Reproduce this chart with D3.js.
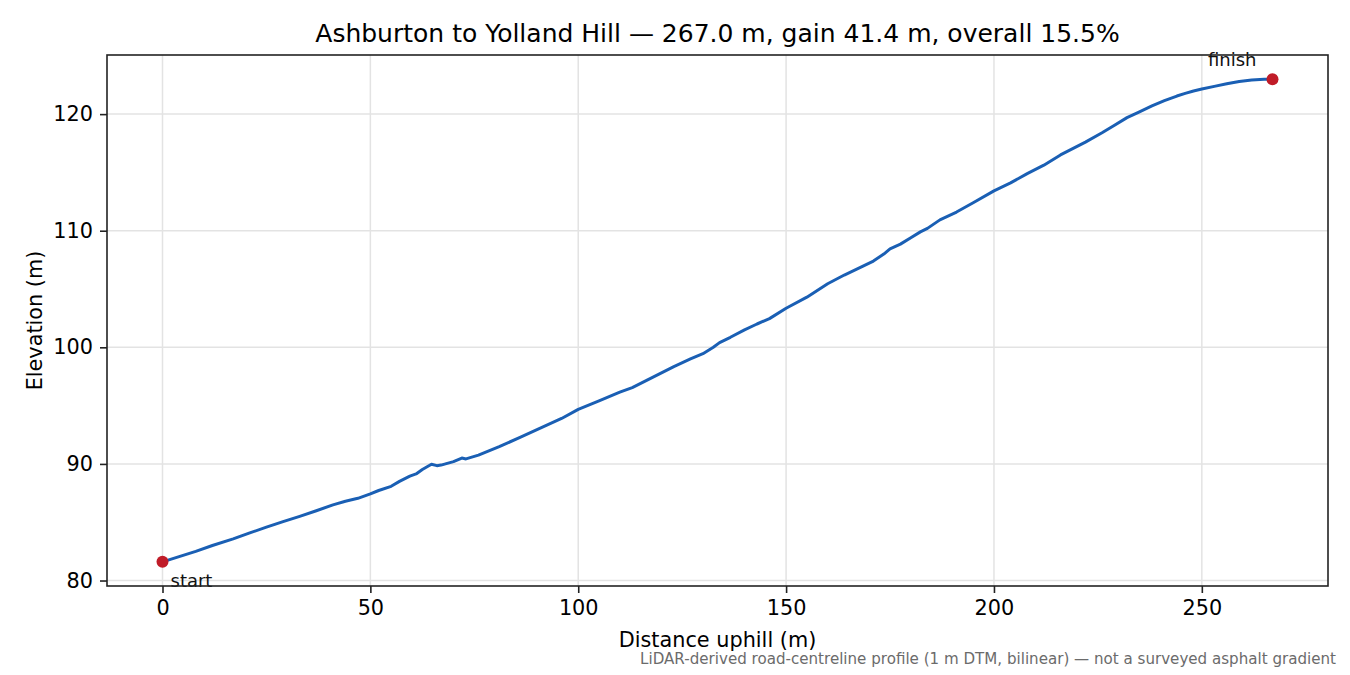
<!doctype html>
<html lang="en">
<head>
    <meta charset="utf-8"/>
    <title>Ashburton to Yolland Hill</title>
    <script src="https://d3js.org/d3.v7.min.js"></script>
    <style>
        body {
            margin: 0;
            padding: 0;
            background: white;
        }

        svg text {
            font-family: 'DejaVu Sans', sans-serif;
        }
    </style>
</head>
<body>
<script>

    // profile: distance uphill (m) and elevation (m)
    const distance = [0, 4, 8, 12, 17, 21, 25, 29, 33, 37, 41, 44, 47, 50, 52, 55, 57, 59.5, 61, 62.5,
        64.7, 66, 67, 70, 72, 73, 76, 81, 86, 91, 96, 100, 105, 110, 113, 118, 123, 127, 130, 132.5,
        134, 136.6, 140, 143, 146, 150, 155, 160, 164, 167, 171, 173.5, 175, 177.5, 180, 182.3, 184,
        187, 191, 195, 200, 204, 208, 212, 216, 222, 226, 229, 232, 235, 238, 241, 244, 246, 248, 250,
        253, 256, 259, 262, 265, 267]
    const elevation = [81.6, 82.05, 82.5, 83.0, 83.57, 84.08, 84.58, 85.05, 85.5, 85.98, 86.49, 86.8,
        87.05, 87.43, 87.72, 88.08, 88.5, 88.95, 89.14, 89.52, 89.97, 89.85, 89.9, 90.2, 90.5, 90.43,
        90.75, 91.48, 92.28, 93.1, 93.9, 94.68, 95.4, 96.15, 96.55, 97.45, 98.35, 99.0, 99.45, 100.0,
        100.4, 100.86, 101.5, 102.0, 102.46, 103.35, 104.3, 105.45, 106.2, 106.7, 107.4, 108.0, 108.45,
        108.85, 109.4, 109.9, 110.2, 110.93, 111.6, 112.4, 113.42, 114.1, 114.9, 115.62, 116.5, 117.6,
        118.4, 119.05, 119.7, 120.2, 120.7, 121.15, 121.55, 121.78, 121.98, 122.15, 122.38, 122.6,
        122.8, 122.92, 122.99, 123.0]

    const xTicks = [0, 50, 100, 150, 200, 250]
    const yTicks = [80, 90, 100, 110, 120]

    const titleText = 'Ashburton to Yolland Hill \u2014 267.0 m, gain 41.4 m, overall 15.5%'
    const noteText = 'LiDAR-derived road-centreline profile (1 m DTM, bilinear) \u2014 not a surveyed asphalt gradient'

    const width = 1350, height = 675
    const margin = {top: 55, right: 22, bottom: 89, left: 107}
    const plotW = width - margin.left - margin.right
    const plotH = height - margin.top - margin.bottom

    const points = distance.map((d, i) => ({d: d, e: elevation[i]}))

    // matplotlib style 5% padding
    const dExt = d3.extent(distance), eExt = d3.extent(elevation)
    const dPad = (dExt[1] - dExt[0]) * 0.05, ePad = (eExt[1] - eExt[0]) * 0.05

    const x = d3.scaleLinear().domain([dExt[0] - dPad, dExt[1] + dPad]).range([0, plotW])
    const y = d3.scaleLinear().domain([eExt[0] - ePad, eExt[1] + ePad]).range([plotH, 0])

    const svg = d3.select('body').append('svg')
        .attr('width', width)
        .attr('height', height)

    const g = svg.append('g').attr('transform', `translate(${margin.left},${margin.top})`)

    // grid
    g.selectAll('.vgrid').data(xTicks).enter().append('line')
        .attr('x1', d => x(d)).attr('x2', d => x(d))
        .attr('y1', 0).attr('y2', plotH)
        .attr('stroke', '#e3e3e3').attr('stroke-width', 1.5)
    g.selectAll('.hgrid').data(yTicks).enter().append('line')
        .attr('y1', d => y(d)).attr('y2', d => y(d))
        .attr('x1', 0).attr('x2', plotW)
        .attr('stroke', '#e3e3e3').attr('stroke-width', 1.5)

    // axes
    const xAxis = g.append('g').attr('transform', `translate(0,${plotH})`)
        .call(d3.axisBottom(x).tickValues(xTicks).tickSize(7).tickPadding(7).tickFormat(d3.format('d')))
    const yAxis = g.append('g')
        .call(d3.axisLeft(y).tickValues(yTicks).tickSize(7).tickPadding(7).tickFormat(d3.format('d')))

    ;[xAxis, yAxis].forEach(function (a) {
        a.select('.domain').remove()
        a.selectAll('.tick line').attr('stroke', '#222').attr('stroke-width', 1.6)
        a.selectAll('.tick text')
            .attr('fill', '#000')
            .style('font-size', '20.8px')
            .style('font-family', "'DejaVu Sans', sans-serif")
    })

    // profile line
    g.append('path')
        .datum(points)
        .attr('fill', 'none')
        .attr('stroke', '#1a5fb4')
        .attr('stroke-width', 3)
        .attr('stroke-linejoin', 'round')
        .attr('d', d3.line().x(p => x(p.d)).y(p => y(p.e)))

    // start / finish markers
    const ends = [points[0], points[points.length - 1]]
    g.selectAll('.end').data(ends).enter().append('circle')
        .attr('cx', p => x(p.d))
        .attr('cy', p => y(p.e))
        .attr('r', 6)
        .attr('fill', '#c01c28')

    g.append('text')
        .attr('x', x(ends[0].d) + 8)
        .attr('y', y(ends[0].e) + 25)
        .style('font-size', '18px')
        .attr('fill', '#111')
        .text('start')
    g.append('text')
        .attr('x', x(ends[1].d) - 16)
        .attr('y', y(ends[1].e) - 13)
        .attr('text-anchor', 'end')
        .style('font-size', '18px')
        .attr('fill', '#111')
        .text('finish')

    // frame
    g.append('rect')
        .attr('width', plotW).attr('height', plotH)
        .attr('fill', 'none').attr('stroke', '#222').attr('stroke-width', 1.6)

    // titles
    svg.append('text')
        .attr('x', margin.left + plotW / 2)
        .attr('y', 42)
        .attr('text-anchor', 'middle')
        .style('font-size', '25px')
        .text(titleText)

    svg.append('text')
        .attr('x', margin.left + plotW / 2)
        .attr('y', 647)
        .attr('text-anchor', 'middle')
        .style('font-size', '20.8px')
        .text('Distance uphill (m)')

    svg.append('text')
        .attr('transform', `translate(42,${margin.top + plotH / 2}) rotate(-90)`)
        .attr('text-anchor', 'middle')
        .style('font-size', '20.8px')
        .text('Elevation (m)')

    svg.append('text')
        .attr('x', 1336)
        .attr('y', 664)
        .attr('text-anchor', 'end')
        .style('font-size', '15.1px')
        .attr('fill', '#6b6b6b')
        .text(noteText)

</script>
</body>
</html>
